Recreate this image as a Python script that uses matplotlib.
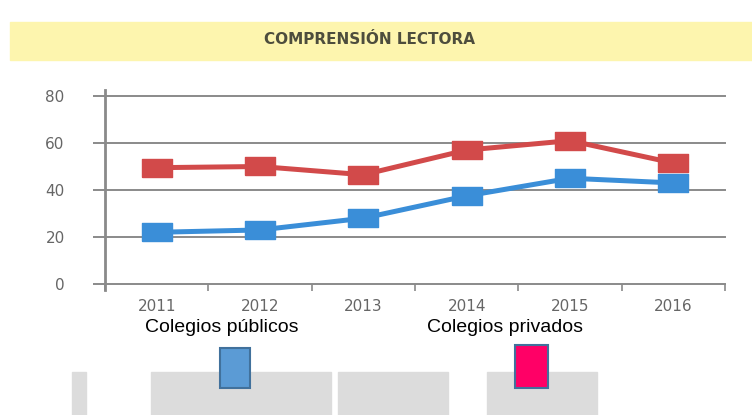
import matplotlib.pyplot as plt
from matplotlib.patches import Rectangle
import numpy as np

# datos
years = ['2011', '2012', '2013', '2014', '2015', '2016']
publicos = [22, 23, 28, 37.5, 45, 43]
privados = [49.5, 50, 46.5, 57, 61, 51.5]
yticks = [0, 20, 40, 60, 80]

W, H = 752, 415
fig = plt.figure(figsize=(W / 100, H / 100), dpi=100)

def fx(px):
    return px / W

def fy(py):
    return 1 - py / H

# banda amarilla del titulo
fig.patches.append(Rectangle((fx(10), fy(60)), fx(742), fy(22) - fy(60),
                             transform=fig.transFigure, color='#fdf5ae', zorder=0))
fig.text(fx(370), fy(40), 'COMPRENSIÓN LECTORA', ha='center', va='center',
         fontsize=11, fontweight='bold', color='#4d4d3d', family='DejaVu Sans')

ax = fig.add_axes([fx(105), fy(284), fx(725) - fx(105), fy(96) - fy(284)])
x = np.arange(len(years)) + 0.5
rect = [(-1.7, -1), (1.7, -1), (1.7, 1), (-1.7, 1), (-1.7, -1)]
ax.plot(x, privados, color='#d24a4a', lw=3.6, marker=rect, ms=21, zorder=3)
ax.plot(x, publicos, color='#3a8ed8', lw=3.6, marker=rect, ms=21, zorder=3)

ax.set_xlim(0, len(years))
ax.set_ylim(0, 80)
ax.set_yticks(yticks)
for v in yticks:
    ax.axhline(v, color='#8a8a8a', lw=1.4, zorder=1, clip_on=False)
ax.set_xticks(np.arange(len(years) + 1))
ax.set_xticklabels([])
ax.set_xticks(x, minor=True)
ax.set_xticklabels(years, minor=True)
ax.tick_params(axis='x', which='major', length=5, width=1.2, color='#8a8a8a', direction='out')
ax.tick_params(axis='x', which='minor', length=0, pad=11, labelsize=11, labelcolor='#666666')
ax.tick_params(axis='y', length=9, width=1.4, color='#8a8a8a', pad=20,
               labelsize=11, labelcolor='#666666')
for s in ['top', 'right', 'bottom']:
    ax.spines[s].set_visible(False)
ax.spines['left'].set_color('#8a8a8a')
ax.spines['left'].set_linewidth(2)
ax.spines['left'].set_bounds(-2.5, 82.5)
ax.patch.set_alpha(0)

# leyenda
leg_font = ['Liberation Sans', 'DejaVu Sans']
fig.text(fx(222), fy(327), 'Colegios públicos', ha='center', va='center',
         fontsize=14, family=leg_font, color='black')
fig.text(fx(505), fy(327), 'Colegios privados', ha='center', va='center',
         fontsize=14, family=leg_font, color='black')

# franjas grises del fondo
for x0, x1 in [(72, 86), (151, 331), (338, 448), (487, 597)]:
    fig.patches.append(Rectangle((fx(x0), 0), fx(x1 - x0), fy(372),
                                 transform=fig.transFigure, color='#dcdcdc', zorder=0))

fig.patches.append(Rectangle((fx(220), fy(388)), fx(30), fy(348) - fy(388),
                             transform=fig.transFigure, facecolor='#5b9bd5',
                             edgecolor='#41719c', lw=1.5, zorder=2))
fig.patches.append(Rectangle((fx(515), fy(388)), fx(33), fy(345) - fy(388),
                             transform=fig.transFigure, facecolor='#ff0066',
                             edgecolor='#41719c', lw=1.5, zorder=2))

fig.savefig('out.png', dpi=100)
